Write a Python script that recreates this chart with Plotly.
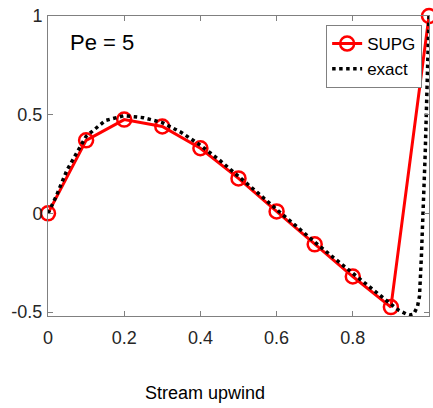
import plotly.graph_objects as go

# SUPG nodal solution
supg_x = [0, 0.1, 0.2, 0.3, 0.4, 0.5, 0.6, 0.7, 0.8, 0.9, 1.0]
supg_y = [0, 0.37, 0.475, 0.44, 0.33, 0.177, 0.01, -0.157, -0.32, -0.475, 1.0]

# exact solution
exact_x = [0, 0.02, 0.05, 0.07, 0.1, 0.15, 0.2, 0.25, 0.3, 0.35, 0.4, 0.45, 0.5, 0.55,
           0.6, 0.65, 0.7, 0.75, 0.8, 0.85, 0.9, 0.92, 0.94, 0.95, 0.96, 0.97, 0.975,
           0.98, 0.985, 0.99, 0.995, 1.0]
exact_y = [0, 0.08, 0.22, 0.29, 0.39, 0.47, 0.495, 0.485, 0.46, 0.41, 0.345, 0.27, 0.19, 0.105,
           0.02, -0.065, -0.145, -0.225, -0.305, -0.385, -0.46, -0.49, -0.51, -0.515, -0.51,
           -0.47, -0.42, -0.22, 0.0, 0.3, 0.65, 1.0]

x_ticks = [0, 0.2, 0.4, 0.6, 0.8, 1]
x_labels = ["0", "0.2", "0.4", "0.6", "0.8", "1"]
y_ticks = [-0.5, 0, 0.5, 1]
y_labels = ["-0.5", "0", "0.5", "1"]

FONT = "Liberation Sans, Arial, sans-serif"

fig = go.Figure()
fig.add_trace(go.Scatter(
    x=supg_x, y=supg_y, mode="lines+markers", name="SUPG",
    line=dict(color="#ff0000", width=3),
    marker=dict(symbol="circle-open", size=14, color="#ff0000", line=dict(width=2.5)),
    cliponaxis=False,
))
fig.add_trace(go.Scatter(
    x=exact_x, y=exact_y, mode="lines", name="exact",
    line=dict(color="black", width=3.5, dash="dot"),
    cliponaxis=False,
))

axis_common = dict(
    showline=True, linecolor="#808080", linewidth=1, mirror="allticks",
    ticks="inside", ticklen=5, tickcolor="#808080", showgrid=False, zeroline=False,
    automargin=False,
    tickfont=dict(family=FONT, size=18, color="#262626"),
)

fig.update_layout(
    width=433, height=408,
    margin=dict(l=48, r=4, t=16, b=92, autoexpand=False),
    paper_bgcolor="white", plot_bgcolor="white",
    xaxis=dict(range=[0, 1], tickvals=x_ticks, ticktext=x_labels,
               ticklabelstandoff=5, **axis_common),
    yaxis=dict(range=[-0.52, 1.0], tickvals=y_ticks, ticktext=y_labels,
               ticklabelstandoff=1, **axis_common),
    legend=dict(
        x=0.982, y=0.97, xanchor="right", yanchor="top",
        bordercolor="#808080", borderwidth=1, bgcolor="white",
        font=dict(family=FONT, size=17, color="black"),
        tracegroupgap=0, itemwidth=30,
    ),
    showlegend=True,
    annotations=[
        dict(x=0.053, y=0.864, xref="x", yref="y", text="Pe = 5", showarrow=False,
             xanchor="left", yanchor="middle",
             font=dict(family=FONT, size=22, color="black")),
        dict(x=0.413, y=-0.257, xref="paper", yref="paper", text="Stream upwind",
             showarrow=False, xanchor="center", yanchor="middle",
             font=dict(family=FONT, size=18, color="black")),
    ],
)

fig.write_html("out.html", config={"displayModeBar": False},
               post_script="document.body.style.margin='0';document.body.style.overflow='hidden';")
